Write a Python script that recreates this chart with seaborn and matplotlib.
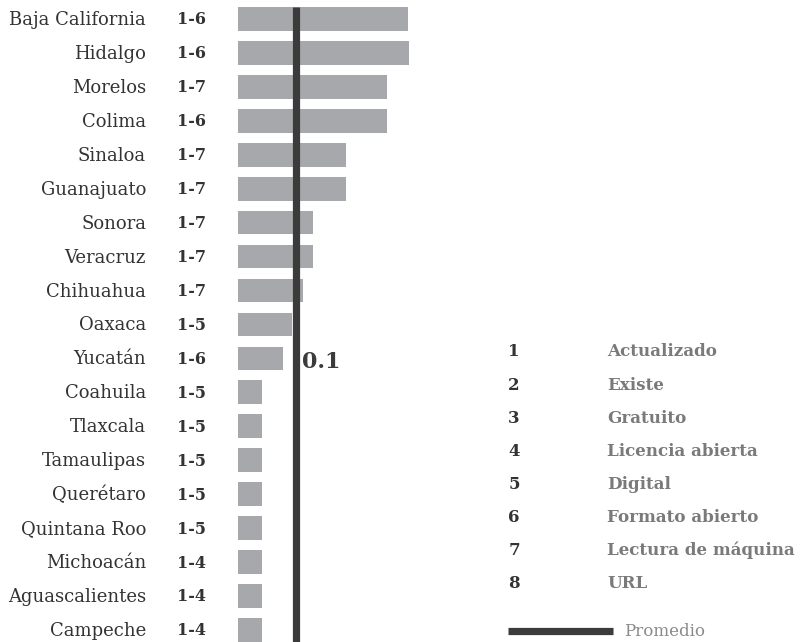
import matplotlib
matplotlib.use("Agg")
import matplotlib.pyplot as plt
import matplotlib.transforms as mtransforms
from matplotlib.lines import Line2D
import pandas as pd
import seaborn as sns

# --- datos ---
estados = ['Baja California', 'Hidalgo', 'Morelos', 'Colima', 'Sinaloa', 'Guanajuato',
           'Sonora', 'Veracruz', 'Chihuahua', 'Oaxaca', 'Yucatán', 'Coahuila', 'Tlaxcala',
           'Tamaulipas', 'Querétaro', 'Quintana Roo', 'Michoacán', 'Aguascalientes', 'Campeche']
rangos = ['1-6', '1-6', '1-7', '1-6', '1-7', '1-7', '1-7', '1-7', '1-7', '1-5',
          '1-6', '1-5', '1-5', '1-5', '1-5', '1-5', '1-4', '1-4', '1-4']
valores = [0.296, 0.297, 0.259, 0.259, 0.188, 0.188, 0.130, 0.130, 0.113, 0.094,
           0.078, 0.042, 0.042, 0.042, 0.042, 0.042, 0.042, 0.042, 0.042]
promedio = 0.1
promedio_txt = '0.1'

criterios_num = ['1', '2', '3', '4', '5', '6', '7', '8']
criterios = ['Actualizado', 'Existe', 'Gratuito', 'Licencia abierta', 'Digital',
             'Formato abierto', 'Lectura de máquina', 'URL']

# --- colores ---
GRIS_BARRA = '#A7A8AB'
OSCURO = '#3B3B3B'
TEXTO = '#333333'
GRIS_TEXTO = '#7A7A7A'

df = pd.DataFrame({'estado': estados, 'valor': valores})

sns.set_style('white')
plt.rcParams['font.family'] = ['DejaVu Serif']

W, H = 805, 642
fig = plt.figure(figsize=(W / 100, H / 100), dpi=100)
ax = fig.add_axes([238 / W, 0, 232 / W, 640 / H])

sns.barplot(data=df, x='valor', y='estado', orient='h', color=GRIS_BARRA,
            width=0.7, saturation=1, linewidth=0, ax=ax)

ax.set_xlim(0, 232 / 575)
ax.set_ylim(18.356, -0.5)
ax.vlines(promedio, -0.35, 18.356, color=OSCURO, linewidth=5.2, zorder=3)
ax.annotate(promedio_txt, xy=(promedio, 10.1), xytext=(5, 0), textcoords='offset points',
            ha='left', va='center', fontsize=16, fontweight='bold', color=OSCURO)

ax.set_axis_off()

# etiquetas de estados y rangos
trans = mtransforms.blended_transform_factory(fig.transFigure, ax.transData)
for i, (nombre, rango) in enumerate(zip(estados, rangos)):
    ax.text(146 / W, i + 0.03, nombre, transform=trans, ha='right', va='center',
            fontsize=13, color=TEXTO)
    ax.text(191.5 / W, i + 0.03, rango, transform=trans, ha='center', va='center',
            fontsize=11.5, fontweight='bold', color=TEXTO)

# leyenda de criterios
for i, (num, nombre) in enumerate(zip(criterios_num, criterios)):
    y = 1 - (352 + i * 33.1) / H
    fig.text(514 / W, y, num, ha='center', va='center', fontsize=12,
             fontweight='bold', color=TEXTO)
    fig.text(607 / W, y, nombre, ha='left', va='center', fontsize=12.1,
             fontweight='bold', color=GRIS_TEXTO)

y_prom = 1 - 631 / H
fig.add_artist(Line2D([508 / W, 613 / W], [y_prom, y_prom], transform=fig.transFigure,
                      color=OSCURO, linewidth=5.2, solid_capstyle='butt'))
fig.text(624 / W, y_prom, 'Promedio', ha='left', va='center', fontsize=12,
         color='#8A8A8A')

fig.savefig('out.png', dpi=100)
